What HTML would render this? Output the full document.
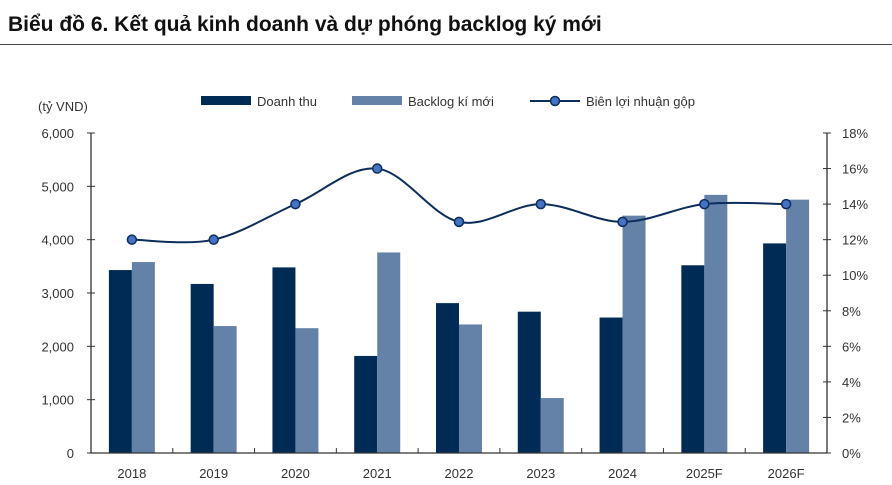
<!DOCTYPE html>
<html><head><meta charset="utf-8"><style>
body{margin:0;background:#fff;width:892px;height:485px;overflow:hidden;font-family:"Liberation Sans","Noto Sans CJK SC",sans-serif}
#title{position:absolute;left:8px;top:13px;font-size:21px;font-weight:bold;color:#111}
#rule{position:absolute;left:0;top:44px;width:892px;height:1px;background:#444}
svg{position:absolute;left:0;top:0}
text{font-family:"Liberation Sans",sans-serif;fill:#333;font-size:13px}
</style></head><body>
<div id="title">Biểu đồ 6. Kết quả kinh doanh và dự phóng backlog ký mới</div>
<div id="rule"></div>
<svg id="chart" width="892" height="485"></svg>
<script>
const categories=["2018","2019","2020","2021","2022","2023","2024","2025F","2026F"];
const revenue=[3430,3170,3480,1820,2810,2650,2540,3520,3930];
const backlog=[3580,2380,2340,3760,2410,1030,4450,4840,4750];
const margin=[12,12,14,16,13,14,13,14,14];
const leftTicks=[0,1000,2000,3000,4000,5000,6000];
const rightTicks=[0,2,4,6,8,10,12,14,16,18];
const X0=91,X1=827,Y0=453,Y1=133;
const svg=document.getElementById('chart');const NS="http://www.w3.org/2000/svg";
function mk(t,a,p){const e=document.createElementNS(NS,t);for(const k in a)e.setAttribute(k,a[k]);(p||svg).appendChild(e);return e;}
const step=(X1-X0)/categories.length;
const xc=i=>X0+step*(i+0.5);
const yL=v=>Y0-(v/6000)*(Y0-Y1);
const yR=v=>Y0-(v/18)*(Y0-Y1);
const bw=23;
revenue.forEach((v,i)=>{const r=mk('rect',{x:xc(i)-bw,y:yL(v),width:bw,height:Y0-yL(v),fill:'#002b55'});

});
backlog.forEach((v,i)=>{const r=mk('rect',{x:xc(i),y:yL(v),width:bw,height:Y0-yL(v),fill:'#6482a8'});

});
mk('line',{x1:X0,y1:Y1,x2:X0,y2:Y0,stroke:'#333','stroke-width':1.3});
mk('line',{x1:X1,y1:Y1,x2:X1,y2:Y0,stroke:'#333','stroke-width':1.3});
mk('line',{x1:X0,y1:Y0,x2:X1,y2:Y0,stroke:'#333','stroke-width':1.3});
leftTicks.forEach(v=>{mk('line',{x1:X0-4,x2:X0+4,y1:yL(v),y2:yL(v),stroke:'#333'});
const t=mk('text',{x:X0-17,y:yL(v)+5,'text-anchor':'end'});t.textContent=v.toLocaleString('en-US');

});
rightTicks.forEach(v=>{mk('line',{x1:X1-4,x2:X1+4,y1:yR(v),y2:yR(v),stroke:'#333'});
const t=mk('text',{x:X1+15,y:yR(v)+5});t.textContent=v+'%';

});
for(let i=1;i<categories.length;i++){mk('line',{x1:X0+step*i,x2:X0+step*i,y1:Y0,y2:Y0-5,stroke:'#333'});}
categories.forEach((c,i)=>{const t=mk('text',{x:xc(i),y:Y0+25,'text-anchor':'middle'});t.textContent=c;

});
const pts=margin.map((v,i)=>[xc(i),yR(v)]);
let d='M'+pts[0];
for(let i=0;i<pts.length-1;i++){const p0=pts[i-1]||pts[i],p1=pts[i],p2=pts[i+1],p3=pts[i+2]||p2;const k=1/6;
d+=' C'+(p1[0]+(p2[0]-p0[0])*k)+','+(p1[1]+(p2[1]-p0[1])*k)+' '+(p2[0]-(p3[0]-p1[0])*k)+','+(p2[1]-(p3[1]-p1[1])*k)+' '+p2[0]+','+p2[1];}
const ln=mk('path',{d:d,fill:'none',stroke:'#0d2d5a','stroke-width':2});


pts.forEach((p,i)=>{const c=mk('circle',{cx:p[0],cy:p[1],r:4.5,fill:'#4472c4',stroke:'#0d2d5a','stroke-width':1.5});

});
const u=mk('text',{x:38,y:111});u.textContent='(tỷ VND)';


const lg=mk('g',{});


mk('rect',{x:201,y:96,width:50,height:9,fill:'#002b55'},lg);
let t=mk('text',{x:257,y:106},lg);t.textContent='Doanh thu';
mk('rect',{x:352,y:96,width:50,height:9,fill:'#6482a8'},lg);
t=mk('text',{x:408,y:106},lg);t.textContent='Backlog kí mới';
mk('line',{x1:530,x2:580,y1:101,y2:101,stroke:'#0d2d5a','stroke-width':2},lg);
mk('circle',{cx:555,cy:101,r:4.5,fill:'#4472c4',stroke:'#0d2d5a','stroke-width':1.5},lg);
t=mk('text',{x:586,y:106},lg);t.textContent='Biên lợi nhuận gộp';
</script>
</body></html>
